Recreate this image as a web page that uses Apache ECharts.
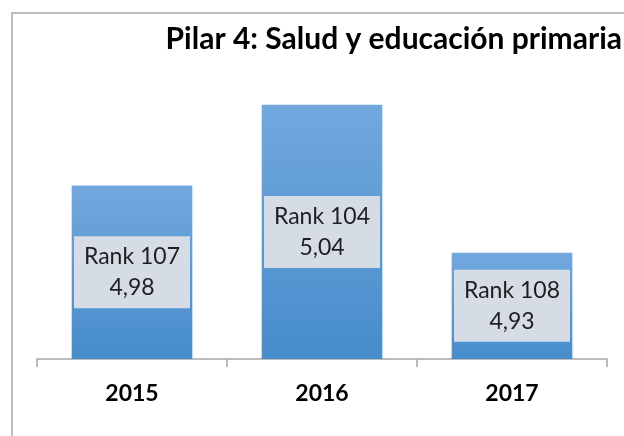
<!DOCTYPE html>
<html>
<head>
<meta charset="utf-8">
<script src="https://cdn.jsdelivr.net/npm/echarts@6/dist/echarts.min.js"></script>
<style>
  html, body { margin: 0; padding: 0; background: #fff; }
  #chart { width: 624px; height: 436px; }
</style>
</head>
<body>
<div id="chart"></div>
<script>
// datos del gráfico
const years = ["2015", "2016", "2017"];
const scores = [4.98, 5.04, 4.93];
const ranks = [107, 104, 108];
const titleText = "Pilar 4: Salud y educación primaria";

const myChart = echarts.init(document.getElementById("chart"));

const option = {
  animation: false,
  backgroundColor: "#ffffff",
  title: {
    text: titleText,
    right: -3,
    top: 19,
    textStyle: {
      fontFamily: "Lato",
      fontWeight: "bold",
      fontSize: 30,
      color: "#000000",
    },
  },
  graphic: [
    {
      type: "rect",
      shape: { x: 12, y: 13, width: 700, height: 500 },
      style: { fill: "none", stroke: "#a6a6a6", lineWidth: 1.5 },
      silent: true,
    },
  ],
  grid: {
    left: 37,
    right: 17,
    top: 60,
    bottom: 77,
  },
  xAxis: {
    type: "category",
    data: years,
    axisLine: { lineStyle: { color: "#a6a6a6", width: 1.5 } },
    axisTick: { show: true, length: 8, lineStyle: { color: "#a6a6a6", width: 1.5 } },
    axisLabel: {
      margin: 23,
      fontFamily: "Lato",
      fontWeight: "bold",
      fontSize: 23,
      color: "#000000",
    },
  },
  yAxis: {
    type: "value",
    min: 4.851,
    max: 5.0733,
    show: false,
    splitLine: { show: false },
  },
  series: [
    {
      type: "bar",
      data: scores,
      barWidth: "63.5%",
      itemStyle: {
        color: new echarts.graphic.LinearGradient(0, 0, 0, 1, [
          { offset: 0, color: "#72a8de" },
          { offset: 1, color: "#478ccc" },
        ]),
      },
      label: {
        show: true,
        position: "inside",
        formatter: (p) =>
          "Rank " + ranks[p.dataIndex] + "\n" + p.value.toFixed(2).replace(".", ","),
        fontFamily: "Lato",
        fontSize: 23,
        color: "#1e1e1e",
        backgroundColor: "#d6dce5",
        width: 116,
        align: "center",
        lineHeight: 31,
        padding: [5, 0, 5, 0],
      },
    },
  ],
};

myChart.setOption(option);
</script>
</body>
</html>
